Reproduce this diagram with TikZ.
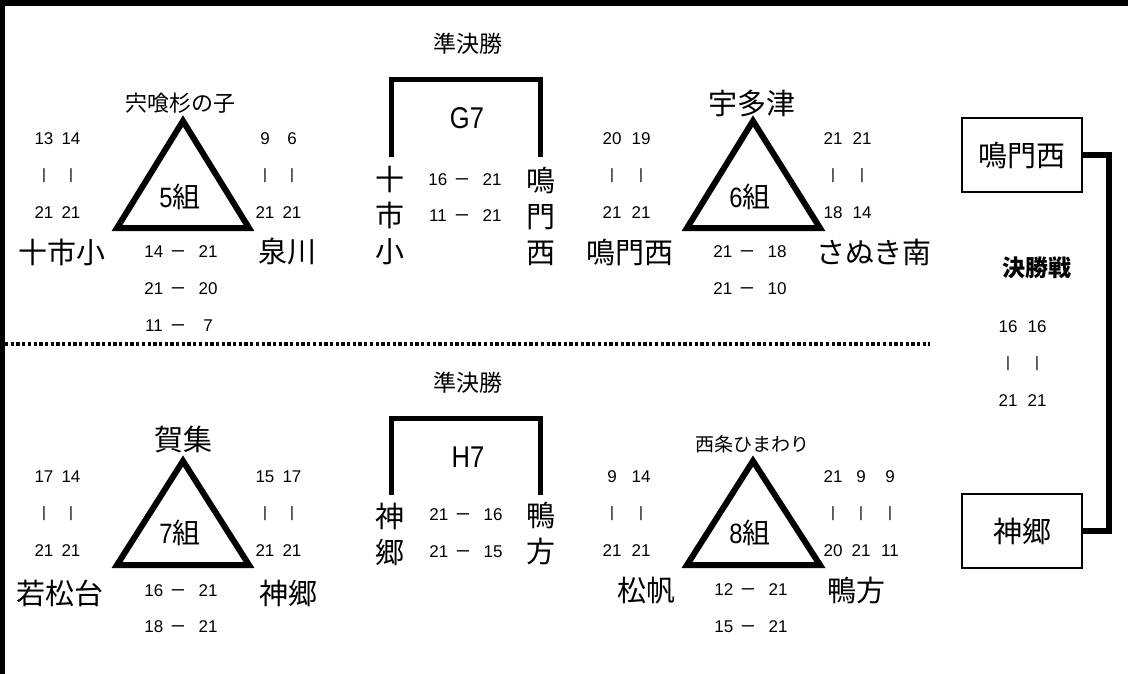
\documentclass[tikz,border=0pt]{standalone}
\usepackage{fontspec}
\usepackage{graphicx}
\setmainfont{Liberation Sans}
\newfontfamily\cjk{Noto Sans CJK JP}
\newfontfamily\latn[FakeStretch=0.85]{Liberation Sans}
\newcommand\scoreline[2]{\makebox[18pt]{#1}\hspace{9pt}\raisebox{1.2pt}{\scalebox{0.72}[1.2]{—}}\hspace{15pt}\makebox[18pt]{#2}}
\newcommand\scorecol[5]{%
  \node[num] (#1t) at (#2,#3) {#4};
  \node[barx] (#1m) at (#2,#3+37) {|};
  \node[num] (#1b) at (#2,#3+74) {#5};}
\tikzset{
  tname/.style={font=\cjk\fontsize{29}{29}\selectfont, inner sep=0pt},
  vname/.style={align=center, font=\cjk\fontsize{29}{36}\selectfont, inner sep=0pt},
  head/.style={font=\cjk\fontsize{23}{23}\selectfont, inner sep=0pt},
  small/.style={font=\cjk\fontsize{22}{22}\selectfont, inner sep=0pt},
  tiny/.style={font=\cjk\fontsize{19}{19}\selectfont, inner sep=0pt},
  num/.style={font=\fontsize{17}{17}\selectfont, inner sep=0pt},
  barx/.style={font=\fontsize{15}{15}\selectfont, inner sep=0pt},
  grp/.style={font=\fontsize{28}{28}\selectfont, inner sep=0pt},
  code/.style={font=\latn\fontsize{30}{30}\selectfont, inner sep=0pt},
  tri/.style={line width=6pt, line join=miter},
  bracket/.style={line width=5pt, line join=miter},
  finalbox/.style={draw, line width=2.5pt, minimum width=120pt, minimum height=74pt, inner sep=0pt, font=\cjk\fontsize{29}{29}\selectfont},
  link/.style={line width=6pt, line join=miter},
  sep/.style={line width=3.3pt, dash pattern=on 3.3pt off 2.4pt},
}
\begin{document}
\begin{tikzpicture}[x=1pt,y=-1pt]
\useasboundingbox (0,0) rectangle (1128,674);
% frame
\fill (0,0) rectangle (1128,6);
\fill (0,0) rectangle (4.5,674);
% separator
\coordinate (sepA) at (5,344);
\coordinate (sepB) at (930,344);
\draw[sep] (sepA) -- (sepB);

% ---------- group 5 ----------
\node[small] (g5top) at (180,103) {宍喰杉の子};
\draw[tri] (117,228) -- (183,121) -- (249,228) -- cycle;
\node[grp] (g5) at (180,197) {{\latn 5}{\cjk 組}};
\scorecol{g5la}{44}{139}{13}{21}
\scorecol{g5lb}{71}{139}{14}{21}
\scorecol{g5ra}{265}{139}{9}{21}
\scorecol{g5rb}{292}{139}{6}{21}
\node[tname] (g5l) at (62,252) {十市小};
\node[tname] (g5r) at (287,252) {泉川};
\node[num] (g5s1) at (181,252) {\scoreline{14}{21}};
\node[num] (g5s2) at (181,289) {\scoreline{21}{20}};
\node[num] (g5s3) at (181,326) {\scoreline{11}{7}};

% ---------- G7 ----------
\node[head] (sf1) at (468,44) {準決勝};
\node[code] (g7) at (467,118) {G7};
\node[vname] (g7l) at (390,216) {十\\市\\小};
\node[vname] (g7r) at (541,216) {鳴\\門\\西};
\coordinate (g7a) at (391,157);
\coordinate (g7b) at (540,157);
\draw[bracket] (g7a) -- (391,80) -- (540,80) -- (g7b);
\node[num] (g7s1) at (465,180) {\scoreline{16}{21}};
\node[num] (g7s2) at (465,216) {\scoreline{11}{21}};

% ---------- group 6 ----------
\node[tname] (g6top) at (752,103) {宇多津};
\draw[tri] (687,228) -- (753,121) -- (820,228) -- cycle;
\node[grp] (g6) at (750,197) {{\latn 6}{\cjk 組}};
\scorecol{g6la}{612}{139}{20}{21}
\scorecol{g6lb}{641}{139}{19}{21}
\scorecol{g6ra}{833}{139}{21}{18}
\scorecol{g6rb}{862}{139}{21}{14}
\node[tname] (g6l) at (630,252) {鳴門西};
\node[tname] (g6r) at (874,252) {さぬき南};
\node[num] (g6s1) at (750,252) {\scoreline{21}{18}};
\node[num] (g6s2) at (750,289) {\scoreline{21}{10}};

% ---------- group 7 ----------
\node[tname] (g7top) at (183,439) {賀集};
\draw[tri] (117,565) -- (183,461) -- (249,565) -- cycle;
\node[grp] (g7g) at (180,533) {{\latn 7}{\cjk 組}};
\scorecol{g7la}{44}{477}{17}{21}
\scorecol{g7lb}{71}{477}{14}{21}
\scorecol{g7ra}{265}{477}{15}{21}
\scorecol{g7rb}{292}{477}{17}{21}
\node[tname] (g7ln) at (60,593) {若松台};
\node[tname] (g7rn) at (288,593) {神郷};
\node[num] (g7s1b) at (181,591) {\scoreline{16}{21}};
\node[num] (g7s2b) at (181,627) {\scoreline{18}{21}};

% ---------- H7 ----------
\node[head] (sf2) at (468,383) {準決勝};
\node[code] (h7) at (468,457) {H7};
\node[vname] (h7l) at (390,534) {神\\郷};
\node[vname] (h7r) at (541,534) {鴨\\方};
\coordinate (h7a) at (391,495);
\coordinate (h7b) at (540,495);
\draw[bracket] (h7a) -- (391,418) -- (540,418) -- (h7b);
\node[num] (h7s1) at (466,515) {\scoreline{21}{16}};
\node[num] (h7s2) at (466,552) {\scoreline{21}{15}};

% ---------- group 8 ----------
\node[tiny] (g8top) at (752,444) {西条ひまわり};
\draw[tri] (687,565) -- (753,461) -- (820,565) -- cycle;
\node[grp] (g8) at (750,533) {{\latn 8}{\cjk 組}};
\scorecol{g8la}{612}{477}{9}{21}
\scorecol{g8lb}{641}{477}{14}{21}
\scorecol{g8ra}{833}{477}{21}{20}
\scorecol{g8rb}{861}{477}{9}{21}
\scorecol{g8rc}{890}{477}{9}{11}
\node[tname] (g8l) at (646,591) {松帆};
\node[tname] (g8r) at (856,590) {鴨方};
\node[num] (g8s1) at (751,590) {\scoreline{12}{21}};
\node[num] (g8s2) at (751,627) {\scoreline{15}{21}};

% ---------- final ----------
\node[finalbox] (fin1) at (1022,155) {鳴門西};
\node[finalbox] (fin2) at (1022,531) {神郷};
\draw[link] (fin1.east) -- ++(26,0) |- (fin2.east);
\node[head, font=\cjk\bfseries\fontsize{23}{23}\selectfont] (finl) at (1037,268) {決勝戦};
\scorecol{fa}{1008}{327}{16}{21}
\scorecol{fb}{1037}{327}{16}{21}
\end{tikzpicture}
\end{document}
